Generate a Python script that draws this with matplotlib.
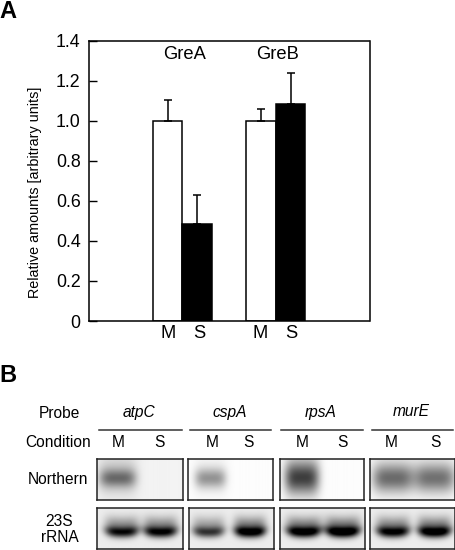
import numpy as np
from matplotlib import pyplot as plt

plt.rcParams['font.family'] = ['Liberation Sans', 'DejaVu Sans']

# Panel A values
proteins = ['GreA', 'GreB']
conditions = ['M', 'S']
amounts_m = [1.0, 1.0]
amounts_s = [0.485, 1.085]
err_m = [0.105, 0.06]
err_s = [0.145, 0.155]
y_ticks = [0, 0.2, 0.4, 0.6, 0.8, 1.0, 1.2, 1.4]
y_tick_labels = ['0', '0.2', '0.4', '0.6', '0.8', '1.0', '1.2', '1.4']

# Panel B band darkness (0 white, 1 black)
probes = ['atpC', 'cspA', 'rpsA', 'murE']
northern_m = [0.38, 0.36, 0.52, 0.46]
northern_s = [0.0, 0.0, 0.0, 0.44]
rrna_m = [0.72, 0.58, 0.85, 0.78]
rrna_s = [0.76, 0.85, 0.90, 0.86]

W, H = 456, 550


def px_axes(fig, left, top, right, bottom):
    return fig.add_axes([left / W, 1 - bottom / H, (right - left) / W, (bottom - top) / H])


def fig_text(fig, x, y, s, **kw):
    kw.setdefault('ha', 'center')
    kw.setdefault('va', 'center')
    fig.text(x / W, 1 - y / H, s, **kw)


def blob(xx, yy, cx, cy, sx, sy, amp):
    return amp * np.exp(-((xx - cx) / sx) ** 4) * np.exp(-((yy - cy) / sy) ** 2)


def northern_image(m, s, cx_m, cx_s, sx, sy, smear, base):
    xx, yy = np.meshgrid(np.linspace(0, 1, 170), np.linspace(0, 1, 82))
    img = np.zeros_like(xx)
    for amp, cx in ((m, cx_m), (s, cx_s)):
        img += blob(xx, yy, cx, 0.47, sx, sy, amp)
        img += blob(xx, yy, cx, 0.38, sx * 1.1, 0.5, amp * smear)
    return np.clip(1 - base - img, 0, 1)


def rrna_image(m, s, cx_m, cx_s, sx):
    xx, yy = np.meshgrid(np.linspace(0, 1, 170), np.linspace(0, 1, 82))
    img = np.zeros_like(xx)
    for amp, cx in ((m, cx_m), (s, cx_s)):
        # bands curve up at their ends, dark along the lower edge
        cy = 0.60 - 1.2 * (xx - cx) ** 2
        img += blob(xx, yy, cx, cy, sx, 0.13, amp)
        img += blob(xx, yy, cx, cy - 0.17, sx * 0.98, 0.22, amp * 0.5)
    return np.clip(0.93 - img, 0, 1)


fig = plt.figure(figsize=(W / 100, H / 100), dpi=100, facecolor='white')

# Panel A
ax = px_axes(fig, 89, 40.5, 369.5, 321)
bar_w = 29.5
group_x = [182.5, 276]
ax.bar([g - bar_w / 2 for g in group_x], amounts_m, bar_w, color='white', edgecolor='black', linewidth=1.1)
ax.bar([g + bar_w / 2 for g in group_x], amounts_s, bar_w, color='black', edgecolor='black', linewidth=1.1)
ax.errorbar([g - bar_w / 2 for g in group_x], amounts_m, yerr=[[0, 0], err_m], fmt='none', ecolor='black',
            elinewidth=1.1, capsize=3, capthick=1.1)
ax.errorbar([g + bar_w / 2 for g in group_x], amounts_s, yerr=[[0, 0], err_s], fmt='none', ecolor='black',
            elinewidth=1.1, capsize=3, capthick=1.1)
ax.set_xlim(89, 369.5)
ax.set_ylim(0, 1.4)
ax.set_yticks(y_ticks)
ax.set_yticklabels(y_tick_labels, fontsize=12.8)
ax.set_xticks([])
ax.tick_params(axis='y', direction='in', length=6, width=1, pad=6)
for spine in ax.spines.values():
    spine.set_linewidth(1.1)

fig_text(fig, 35, 192.5, 'Relative amounts [arbitrary units]', fontsize=10.4, rotation=90)
fig_text(fig, 184.5, 54.5, proteins[0], fontsize=13.2)
fig_text(fig, 277.5, 54.5, proteins[1], fontsize=13.2)
for x, c in zip([168, 199, 260, 291], conditions * 2):
    fig_text(fig, x, 333.5, c, fontsize=13.2)
fig_text(fig, 8, 12, 'A', fontsize=17, fontweight='bold')
fig_text(fig, 8, 376, 'B', fontsize=17, fontweight='bold')

# Panel B
north_boxes = [(97, 183), (188, 273), (280, 364), (370, 455)]
rrna_boxes = [(97, 183), (189, 274), (280, 365), (370, 455)]
rule_x = [(99, 182), (190, 271), (281, 363), (372, 453)]
label_x = [(118, 159), (212, 248), (302, 342), (391, 435)]
north_cx = [(0.24, 0.75), (0.26, 0.75), (0.26, 0.75), (0.27, 0.76)]
north_sx = [0.21, 0.18, 0.20, 0.24]
north_sy = [0.22, 0.24, 0.38, 0.34]
north_smear = [0.45, 0.15, 0.45, 0.25]
rrna_cx = [(0.29, 0.74), (0.23, 0.72), (0.28, 0.74), (0.27, 0.76)]
rrna_sx = [0.20, 0.19, 0.21, 0.20]

fig_text(fig, 59, 413, 'Probe', fontsize=11.2)
fig_text(fig, 58, 442.5, 'Condition', fontsize=11.2)
fig_text(fig, 58, 479, 'Northern', fontsize=11.2)
fig_text(fig, 59, 521, '23S', fontsize=11.2)
fig_text(fig, 60, 538, 'rRNA', fontsize=11.2)

for i, probe in enumerate(probes):
    fig_text(fig, sum(rule_x[i]) / 2 - 1, 412, probe, fontsize=11.2, style='italic')
    fig.add_artist(plt.Line2D([rule_x[i][0] / W, rule_x[i][1] / W], [1 - 430 / H, 1 - 430 / H],
                              color='#333333', linewidth=1.1))
    fig_text(fig, label_x[i][0], 442.5, conditions[0], fontsize=11.2)
    fig_text(fig, label_x[i][1], 442.5, conditions[1], fontsize=11.2)

    ax_n = px_axes(fig, north_boxes[i][0], 459, north_boxes[i][1], 500)
    base = 0.05 if i == 0 else 0.01
    ax_n.imshow(northern_image(northern_m[i], northern_s[i], north_cx[i][0], north_cx[i][1], north_sx[i],
                               north_sy[i], north_smear[i], base),
                cmap='gray', vmin=0, vmax=1, aspect='auto', extent=(0, 1, 1, 0))

    ax_r = px_axes(fig, rrna_boxes[i][0], 508, rrna_boxes[i][1], 549)
    ax_r.imshow(rrna_image(rrna_m[i], rrna_s[i], rrna_cx[i][0], rrna_cx[i][1], rrna_sx[i]),
                cmap='gray', vmin=0, vmax=1, aspect='auto', extent=(0, 1, 1, 0))
    for a in (ax_n, ax_r):
        a.set_xticks([])
        a.set_yticks([])
        for spine in a.spines.values():
            spine.set_linewidth(1.1)
            spine.set_color('#222222')

fig.savefig('out.png', dpi=100)
